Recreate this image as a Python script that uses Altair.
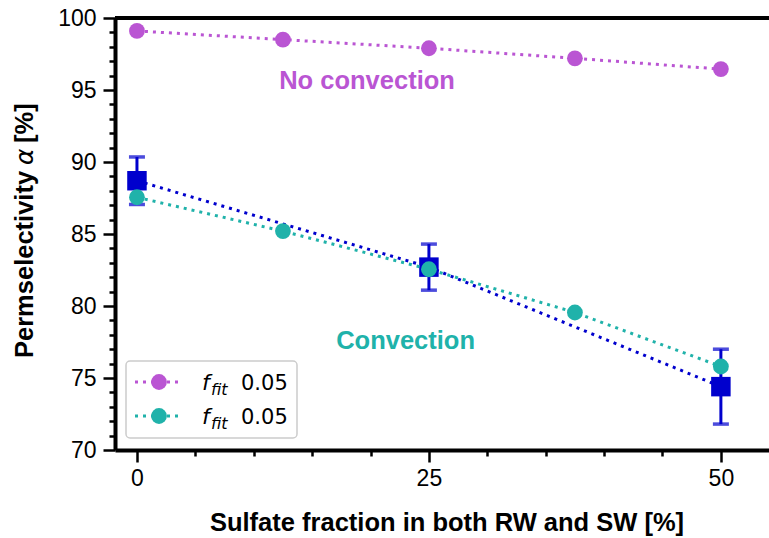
import altair as alt
import pandas as pd

# ---------------- data ----------------
sulfate_model = [0, 12.5, 25, 37.5, 50]
no_convection = [99.1, 98.5, 97.9, 97.2, 96.45]
convection = [87.55, 85.2, 82.55, 79.55, 75.8]

sulfate_exp = [0, 25, 50]
exp_mean = [88.7, 82.7, 74.4]
exp_err = [1.65, 1.6, 2.6]

legend_labels = ["0.05", "0.05"]

PURPLE = "#BA55D3"
TEAL = "#20B2AA"
BLUE = "#0000CD"

W, H = 654, 432
BOLD_FONT = "Liberation Sans"

df_nc = pd.DataFrame({"x": sulfate_model, "y": no_convection})
df_c = pd.DataFrame({"x": sulfate_model, "y": convection})
df_e = pd.DataFrame({"x": sulfate_exp, "y": exp_mean, "err": exp_err})
one = pd.DataFrame({"a": [0]})

xscale = alt.Scale(domain=[-1.88, 54.12], nice=False, zero=False)
yscale = alt.Scale(domain=[70, 100], nice=False, zero=False)

x_axis = alt.Axis(
    values=list(range(0, 51, 5)),
    labelExpr="datum.value % 25 === 0 ? datum.label : ''",
    tickSize={"condition": {"test": "datum.value % 25 === 0", "value": 12}, "value": 6},
    tickWidth=2.5, tickColor="black",
    domainColor="black", domainWidth=4,
    labelFont="Liberation Sans", labelFontSize=23, labelColor="black",
    labelPadding=5, labelFlush=False, labelOverlap=False,
    grid=False,
    title="Sulfate fraction in both RW and SW [%]",
    titleFont=BOLD_FONT, titleFontSize=25.5, titleFontWeight="bold",
    titleColor="black", titleX=331.5, titleY=80, titleBaseline="alphabetic",
)
y_axis = alt.Axis(
    values=list(range(70, 101, 1)),
    labelExpr="datum.value % 5 === 0 ? datum.label : ''",
    tickSize={"condition": {"test": "datum.value % 5 === 0", "value": 12}, "value": 6},
    tickWidth=2.5, tickColor="black",
    domainColor="black", domainWidth=4,
    labelFont="Liberation Sans", labelFontSize=23, labelColor="black",
    labelPadding=7, labelFlush=False, labelOverlap=False, labelBound=False,
    grid=False, title="",
)


def X(field="x"):
    return alt.X(f"{field}:Q", scale=xscale, axis=x_axis)


def Y(field="y"):
    return alt.Y(f"{field}:Q", scale=yscale, axis=y_axis)


dot = [3, 5]
LW = 3

# experimental (blue squares with error bars)
exp_base = alt.Chart(df_e).transform_calculate(
    lo="datum.y - datum.err", hi="datum.y + datum.err"
)
exp_line = alt.Chart(df_e).mark_line(color=BLUE, strokeWidth=LW, strokeDash=dot).encode(x=X(), y=Y())
exp_bar = exp_base.mark_rule(color=BLUE, strokeWidth=3).encode(x=X(), y=Y("lo"), y2="hi:Q")
exp_cap_lo = exp_base.mark_tick(color=BLUE, thickness=3.5, size=16, orient="horizontal").encode(x=X(), y=Y("lo"))
exp_cap_hi = exp_base.mark_tick(color=BLUE, thickness=3.5, size=16, orient="horizontal").encode(x=X(), y=Y("hi"))
exp_pts = alt.Chart(df_e).mark_point(shape="square", filled=True, size=380, color=BLUE, opacity=1).encode(x=X(), y=Y())

# convection model (teal)
c_line = alt.Chart(df_c).mark_line(color=TEAL, strokeWidth=LW, strokeDash=dot).encode(x=X(), y=Y())
c_pts = alt.Chart(df_c).mark_point(shape="circle", filled=True, size=250, color=TEAL, opacity=1).encode(x=X(), y=Y())

# no convection (purple)
nc_line = alt.Chart(df_nc).mark_line(color=PURPLE, strokeWidth=LW, strokeDash=dot).encode(x=X(), y=Y())
nc_pts = alt.Chart(df_nc).mark_point(shape="circle", filled=True, size=250, color=PURPLE, opacity=1).encode(x=X(), y=Y())

# annotations
ann_df = pd.DataFrame({"x": [19.7, 23.0], "y": [95.62, 77.6],
                       "t": ["No convection", "Convection"], "c": [PURPLE, TEAL]})
ann = alt.Chart(ann_df).mark_text(font=BOLD_FONT, fontSize=25.5, fontWeight="bold",
                                  baseline="middle", align="center").encode(
    x=X(), y=Y(), text="t:N", color=alt.Color("c:N", scale=None)
)

# top frame line
top = alt.Chart(one).mark_rule(color="black", strokeWidth=4).encode(
    x=alt.value(0), x2=alt.value(W), y=alt.value(0)
)

# y title pieces
yt1 = alt.Chart(one).mark_text(text="Permselectivity", font=BOLD_FONT, fontSize=25.5, fontWeight="bold",
                               angle=270, align="left", baseline="alphabetic", color="black").encode(
    x=alt.value(-82), y=alt.value(340))
yt2 = alt.Chart(one).mark_text(text="α", font="DejaVu Sans", fontSize=25, fontStyle="italic",
                               angle=270, align="left", baseline="alphabetic", color="black").encode(
    x=alt.value(-82), y=alt.value(147))
yt3 = alt.Chart(one).mark_text(text="[%]", font=BOLD_FONT, fontSize=25.5, fontWeight="bold",
                               angle=270, align="left", baseline="alphabetic", color="black").encode(
    x=alt.value(-82), y=alt.value(125))

# manual legend
leg_box = alt.Chart(one).mark_rect(fill="white", fillOpacity=0.85, stroke="#cccccc", strokeWidth=1.5,
                                   cornerRadius=4).encode(
    x=alt.value(11), x2=alt.value(182), y=alt.value(343), y2=alt.value(420))
legend_layers = [leg_box]
for i, (col, lab) in enumerate(zip([PURPLE, TEAL], legend_labels)):
    cy = 364 + 34 * i
    legend_layers.append(alt.Chart(one).mark_rule(color=col, strokeWidth=LW, strokeDash=dot).encode(
        x=alt.value(20), x2=alt.value(67), y=alt.value(cy)))
    legend_layers.append(alt.Chart(one).mark_point(shape="circle", filled=True, size=250, color=col, opacity=1).encode(
        x=alt.value(44), y=alt.value(cy)))
    legend_layers.append(alt.Chart(one).mark_text(text="f", font="DejaVu Sans", fontSize=22, fontStyle="italic",
                                                  align="left", baseline="alphabetic", color="black").encode(
        x=alt.value(87), y=alt.value(cy + 8)))
    legend_layers.append(alt.Chart(one).mark_text(text="fit", font="DejaVu Sans", fontSize=16, fontStyle="italic",
                                                  align="left", baseline="alphabetic", color="black").encode(
        x=alt.value(96), y=alt.value(cy + 13)))
    legend_layers.append(alt.Chart(one).mark_text(text=lab, font="DejaVu Sans", fontSize=21,
                                                  align="left", baseline="alphabetic", color="black").encode(
        x=alt.value(126), y=alt.value(cy + 8)))

chart = alt.layer(
    exp_line, exp_bar, exp_cap_lo, exp_cap_hi, exp_pts,
    c_line, c_pts, nc_line, nc_pts, ann, top, yt1, yt2, yt3, *legend_layers
).properties(
    width=W, height=H,
    autosize=alt.AutoSizeParams(type="none"),
    padding={"left": 115, "top": 18, "right": 0, "bottom": 88},
    background="white",
).configure_view(stroke=None)

chart.save("out.html", embed_options={"renderer": "svg", "actions": False})
